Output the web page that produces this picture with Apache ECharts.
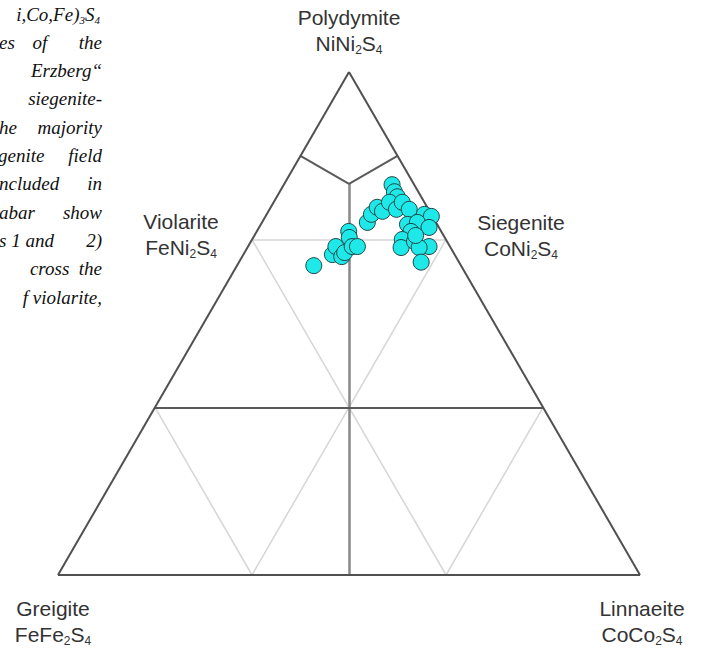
<!DOCTYPE html>
<html lang="en">
<head>
<meta charset="UTF-8">
<title>Ni-Co-Fe thiospinels</title>
<script src="https://cdn.jsdelivr.net/npm/echarts@6/dist/echarts.min.js"></script>
<style>
  html, body { margin: 0; padding: 0; background: #fff; }
  #paint { width: 702px; height: 649px; }
</style>
</head>
<body>
<div id="paint"></div>
<script>
// analyses, % of metal site (Ni, Co, Fe)
var ni = [61.5, 63.7, 65.3, 63.3, 64.1, 68.3, 67.1, 65.3, 65.3, 70.1, 71.7, 73.1, 72.3, 77.6, 76.2, 75.2, 74.1,
          72.7, 74.1, 72.7, 71.7, 71.3, 69.7, 70.1, 69.1, 68.3, 66.7, 65.1, 66.3, 65.3, 65.1, 62.2, 67.5];
var co = [13.2, 15.3, 15.1, 17.1, 17.2, 15.8, 16.5, 17.9, 18.8, 18.1, 18.0, 18.3, 19.6, 18.6, 19.7, 20.7, 19.9,
          21.8, 22.1, 24.0, 27.1, 28.5, 25.2, 26.7, 29.2, 26.5, 25.8, 26.4, 28.1, 31.1, 29.5, 31.3, 27.7];
var fe = [25.3, 21.0, 19.6, 19.6, 18.7, 15.9, 16.4, 16.8, 15.9, 11.8, 10.3, 8.6, 8.1, 3.8, 4.1, 4.1, 6.0,
          5.5, 3.8, 3.3, 1.2, 0.2, 5.1, 3.2, 1.7, 5.2, 7.5, 8.5, 5.6, 3.6, 5.4, 6.5, 4.8];

// diagram lines, end members as [Ni, Co, Fe]
var outerEdges = [
  [[100, 0, 0], [0, 0, 100]],
  [[0, 0, 100], [0, 100, 0]],
  [[0, 100, 0], [100, 0, 0]]
];
var fieldEdges = [
  [[83.33, 0, 16.67], [77.78, 11.11, 11.11]],
  [[83.33, 16.67, 0], [77.78, 11.11, 11.11]],
  [[33.33, 0, 66.67], [33.33, 66.67, 0]]
];
var splitEdge = [[[77.78, 11.11, 11.11], [0, 50, 50]]];
var guideEdges = [
  [[66.67, 0, 33.33], [66.67, 33.33, 0]],
  [[66.67, 0, 33.33], [33.33, 33.33, 33.33]],
  [[66.67, 33.33, 0], [33.33, 33.33, 33.33]],
  [[33.33, 0, 66.67], [0, 33.33, 66.67]],
  [[33.33, 33.33, 33.33], [0, 33.33, 66.67]],
  [[33.33, 33.33, 33.33], [0, 66.67, 33.33]],
  [[33.33, 66.67, 0], [0, 66.67, 33.33]]
];

var cornerNames = ['Polydymite', 'Violarite', 'Siegenite', 'Greigite', 'Linnaeite'];
var cornerFormulas = ['NiNi{s|2}S{s|4}', 'FeNi{s|2}S{s|4}', 'CoNi{s|2}S{s|4}', 'FeFe{s|2}S{s|4}', 'CoCo{s|2}S{s|4}'];
var cornerPos = [[349, 30], [181, 234], [521, 235], [53, 621], [642, 621]];

// cut-off caption text at the left of the figure
var captionRows = [
  [['i,Co,Fe){c|3}S{c|4}', 100, 'right']],
  [['es', -1, 'left'], ['of', 40, 'center'], ['the', 102, 'right']],
  [['Erzberg\u201C', 102, 'right']],
  [['siegenite-', 102, 'right']],
  [['he', -1, 'left'], ['majority', 102, 'right']],
  [['genite', -2, 'left'], ['field', 102, 'right']],
  [['ncluded', -1, 'left'], ['in', 102, 'right']],
  [['abar', -1, 'left'], ['show', 102, 'right']],
  [['s 1 and', -1, 'left'], ['2)', 102, 'right']],
  [['cross  the', 102, 'right']],
  [['f violarite,', 102, 'right']]
];

function toXY(p) {
  var s = p[0] + p[1] + p[2];
  return [(p[1] + p[0] / 2) / s, p[0] / s];
}
function edgeData(list) {
  return list.map(function (e) { return { coords: [toXY(e[0]), toXY(e[1])] }; });
}

var points = [];
for (var i = 0; i < ni.length; i++) {
  points.push(toXY([ni[i], co[i], fe[i]]));
}

var graphics = [];
for (var k = 0; k < cornerNames.length; k++) {
  graphics.push({
    type: 'text',
    x: cornerPos[k][0],
    y: cornerPos[k][1],
    style: {
      text: '{b|' + cornerNames[k] + '}\n{b|' + cornerFormulas[k].replace(/\{s\|(\d)\}/g, '}{s|$1}{b|') + '}',
      align: 'center',
      verticalAlign: 'middle',
      rich: {
        b: { fontSize: 21, lineHeight: 26, fontFamily: 'Liberation Sans', fill: '#333', align: 'center' },
        s: { fontSize: 12, lineHeight: 12, fontFamily: 'Liberation Sans', fill: '#333', verticalAlign: 'bottom' }
      }
    }
  });
}
for (var r = 0; r < captionRows.length; r++) {
  captionRows[r].forEach(function (w) {
    graphics.push({
      type: 'text',
      x: w[1],
      y: 14 + r * 28.3,
      style: {
        text: '{t|' + w[0].replace(/\{c\|(\d)\}/g, '}{c|$1}{t|') + '}',
        align: w[2],
        verticalAlign: 'middle',
        rich: {
          t: { fontSize: 19, lineHeight: 22, fontFamily: 'Liberation Serif', fontStyle: 'italic', fill: '#111' },
          c: { fontSize: 11, lineHeight: 11, fontFamily: 'Liberation Serif', fontStyle: 'italic', fill: '#111', verticalAlign: 'bottom' }
        }
      }
    });
  });
}

var myChart = echarts.init(document.getElementById('paint'), null, { renderer: 'svg' });
var option = {
  backgroundColor: '#fff',
  animation: false,
  grid: { left: 58, right: 62, top: 72, bottom: 74 },
  xAxis: { type: 'value', min: 0, max: 1, show: false },
  yAxis: { type: 'value', min: 0, max: 1, show: false },
  graphic: graphics,
  series: [
    {
      type: 'lines', coordinateSystem: 'cartesian2d', silent: true, z: 1,
      lineStyle: { color: '#d6d6d6', width: 1.5, opacity: 1 },
      data: edgeData(guideEdges)
    },
    {
      type: 'lines', coordinateSystem: 'cartesian2d', silent: true, z: 2,
      lineStyle: { color: '#888', width: 2.5, opacity: 1 },
      data: edgeData(splitEdge)
    },
    {
      type: 'lines', coordinateSystem: 'cartesian2d', silent: true, z: 2,
      lineStyle: { color: '#5a5a5a', width: 2, opacity: 1 },
      data: edgeData(fieldEdges)
    },
    {
      type: 'lines', coordinateSystem: 'cartesian2d', silent: true, z: 3,
      lineStyle: { color: '#505050', width: 2, opacity: 1 },
      data: edgeData(outerEdges)
    },
    {
      type: 'scatter', z: 5,
      symbol: 'circle', symbolSize: 16,
      itemStyle: { color: '#1ee8e8', borderColor: '#1d4545', borderWidth: 1, opacity: 1 },
      data: points
    }
  ]
};
myChart.setOption(option);
</script>
</body>
</html>
